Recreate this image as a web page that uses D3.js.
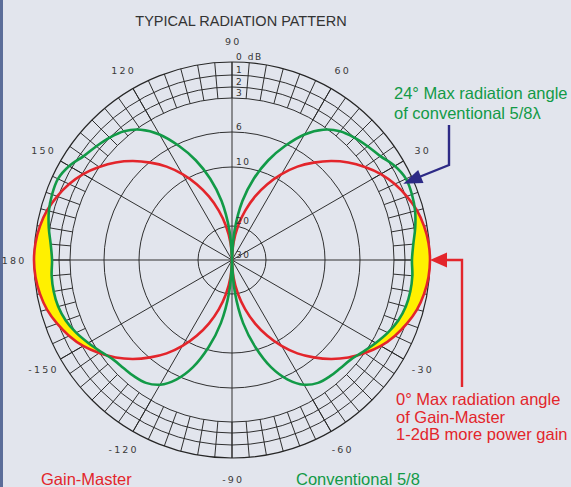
<!DOCTYPE html>
<html>
<head>
<meta charset="utf-8">
<script src="https://cdn.jsdelivr.net/npm/d3@7/dist/d3.min.js"></script>
<style>
  html, body { margin: 0; padding: 0; background: #e2e5ed; }
  svg { display: block; }
</style>
</head>
<body>
<svg id="chart" width="571" height="487"></svg>
<script>
// ---------- DATA ----------
const title = "TYPICAL RADIATION PATTERN";
// elevation angles (deg) for one quadrant; left and right lobes are mirror images
const elevations = [0, 5, 10, 15, 20, 25, 30, 35, 40, 45, 50, 55, 60, 65, 70, 75, 80, 85, 90];
// attenuation below max (dB)
const gainMasterDb        = [0, 0.06, 0.23, 0.5, 0.92, 1.45, 2.1, 2.98, 3.9, 4.94, 6.1, 7.6, 9.3, 11.6, 14.3, 17.1, 19.9, 24.9, 30];
const conventionalUpperDb = [1.42, 1.25, 0.92, 0.65, 0.5, 0.46, 0.77, 1.33, 1.67, 2.0, 2.45, 3.26, 4.5, 6.23, 8.5, 11.5, 15.6, 21.2, 30];
const conventionalLowerDb = [1.42, 1.33, 1.33, 1.42, 1.67, 2.09, 2.64, 3.18, 3.62, 3.79, 3.88, 4.06, 4.59, 5.65, 7.6, 10.5, 14.9, 20.6, 30];
// grid
const ringDb = [0, 1, 2, 3, 6, 10, 20];
const dbLabelValues = [0, 1, 2, 3, 6, 10, 20, 30];
const dbLabelTexts  = ["0 dB", "1", "2", "3", "6", "10", "20", "30"];
const spokeAngles = [0, 30, 60, 90, 120, 150, 180, 210, 240, 270, 300, 330];
const angleTickValues = [90, 120, 150, 180, -150, -120, -90, -60, -30, 30, 60];
const angleTickLabels = ["90", "120", "150", "180", "-150", "-120", "-90", "-60", "-30", "30", "60"];
const seriesNames = ["Gain-Master", "Conventional 5/8"];
const noteConventional = ["24° Max radiation angle", "of conventional 5/8λ"];
const noteGainMaster = ["0° Max radiation angle", "of Gain-Master", "1-2dB more power gain"];

// ---------- LAYOUT ----------
const svg = d3.select("#chart");
const W = 571, H = 487;
const cx = 232, cy = 260;
const RED = "#e3252b", GREEN = "#129a47", BLUE = "#2d2a86", YELLOW = "#fff000", GRID = "#262626";

// dB -> radius (chart uses a non-linear dB scale)
const rScale = d3.scaleLinear()
  .domain([0, 1, 2, 3, 6, 10, 20, 30])
  .range([198, 185, 173, 162, 128, 93, 34, 0]);
const toRad = d => d * Math.PI / 180;
function pt(angleDeg, db) {
  const r = rScale(db);
  return [cx + r * Math.cos(toRad(angleDeg)), cy - r * Math.sin(toRad(angleDeg))];
}

svg.append("rect").attr("width", W).attr("height", H).attr("fill", "#e2e5ed");
svg.append("rect").attr("width", 3).attr("height", H).attr("fill", "#5b6d99");

// title
svg.append("text").attr("x", 241).attr("y", 26).attr("text-anchor", "middle")
  .attr("font-family", "Liberation Sans, Arial, sans-serif").attr("font-size", 14.5)
  .attr("fill", "#333").text(title);

const grid = svg.append("g").attr("fill", "none").attr("stroke", GRID).attr("stroke-width", 0.95);

// rings
grid.selectAll("circle.ring").data(ringDb).join("circle")
  .attr("cx", cx).attr("cy", cy).attr("r", d => rScale(d))
  .attr("stroke-width", d => d === 0 ? 1.2 : 0.95);

// 5-degree ticks in the outer band (0..3 dB)
const tickAngles = d3.range(0, 360, 5);
grid.selectAll("line.tick").data(tickAngles).join("line")
  .attr("x1", a => pt(a, 0)[0]).attr("y1", a => pt(a, 0)[1])
  .attr("x2", a => pt(a, 3)[0]).attr("y2", a => pt(a, 3)[1]);

// spokes every 30 degrees
grid.selectAll("line.spoke").data(spokeAngles).join("line")
  .attr("x1", cx).attr("y1", cy)
  .attr("x2", a => pt(a, 0)[0]).attr("y2", a => pt(a, 0)[1]);

// build lobes
function dbAt(upper, lower, angle) {
  let a = angle > 180 ? angle - 360 : angle;
  let e = Math.abs(a) > 90 ? Math.sign(a) * (180 - Math.abs(a)) : a; // elevation, signed
  return e >= 0 ? upper[elevations.indexOf(e)] : lower[elevations.indexOf(-e)];
}
const lineGen = d3.line().curve(d3.curveCatmullRom.alpha(0.5));
function lobes(upper, lower) {
  const right = d3.range(-90, 91, 5).map(a => pt(a, dbAt(upper, lower, a)));
  const left = d3.range(90, 271, 5).map(a => pt(a, dbAt(upper, lower, a)));
  return lineGen(right) + "Z" + lineGen(left) + "Z";
}
const redPath = lobes(gainMasterDb, gainMasterDb);
const greenPath = lobes(conventionalUpperDb, conventionalLowerDb);

// yellow: where Gain-Master extends beyond conventional
const defs = svg.append("defs");
const mask = defs.append("mask").attr("id", "outsideGreen");
mask.append("rect").attr("width", W).attr("height", H).attr("fill", "white");
mask.append("path").attr("d", greenPath).attr("fill", "black");
svg.append("path").attr("d", redPath).attr("fill", YELLOW).attr("mask", "url(#outsideGreen)");

svg.append("path").attr("d", redPath).attr("fill", "none").attr("stroke", RED).attr("stroke-width", 2.6).attr("stroke-linejoin", "round");
svg.append("path").attr("d", greenPath).attr("fill", "none").attr("stroke", GREEN).attr("stroke-width", 2.6).attr("stroke-linejoin", "round");

// dB labels
const lblFont = "DejaVu Sans, Verdana, sans-serif";
svg.selectAll("text.db").data(dbLabelValues).join("text")
  .attr("x", cx + 4).attr("y", d => cy - rScale(d) - 2.5)
  .attr("font-family", lblFont).attr("font-size", 9).attr("letter-spacing", 1.6)
  .attr("fill", "#333").text((d, i) => dbLabelTexts[i]);

// angle labels
const labelR = 219;
svg.selectAll("text.ang").data(angleTickValues).join("text")
  .attr("x", a => cx + labelR * Math.cos(toRad(a)) + 1.2)
  .attr("y", a => cy - labelR * Math.sin(toRad(a)) + 3.5)
  .attr("text-anchor", "middle")
  .attr("font-family", lblFont).attr("font-size", 9.5).attr("letter-spacing", 2.2)
  .attr("fill", "#3a3a3a").text((a, i) => angleTickLabels[i]);

// annotations
const noteFont = "Liberation Sans, Arial, sans-serif";
svg.append("g").selectAll("text").data(noteConventional).join("text")
  .attr("x", 394).attr("y", (d, i) => 99 + i * 19.5)
  .attr("font-family", noteFont).attr("font-size", 16.5).attr("fill", GREEN).text(d => d);
svg.append("g").selectAll("text").data(noteGainMaster).join("text")
  .attr("x", 396).attr("y", (d, i) => 405 + i * 17.6)
  .attr("font-family", noteFont).attr("font-size", 16.5).attr("fill", RED).text(d => d);

// blue arrow to the conventional max (24°)
const bTip = pt(24, conventionalUpperDb[elevations.indexOf(25)] + 0.35);
const bElbow = [449, 165];
svg.append("polyline").attr("points", [[449, 125], bElbow, [bTip[0] + 14, bTip[1] - 6]].map(p => p.join(",")).join(" "))
  .attr("fill", "none").attr("stroke", BLUE).attr("stroke-width", 2.4);
{
  const dx = bElbow[0] - bTip[0], dy = bElbow[1] - bTip[1], L = Math.hypot(dx, dy);
  const ux = dx / L, uy = dy / L, len = 19, hw = 7;
  const bx = bTip[0] + ux * len, by = bTip[1] + uy * len;
  svg.append("polygon").attr("fill", BLUE)
    .attr("points", [[bTip[0], bTip[1]], [bx - uy * hw, by + ux * hw], [bx + uy * hw, by - ux * hw]].map(p => p.join(",")).join(" "));
}

// red arrow to Gain-Master max (0°)
const rTip = pt(0, gainMasterDb[0]);
svg.append("polyline").attr("points", [[462, 387], [462, rTip[1]], [rTip[0] + 12, rTip[1]]].map(p => p.join(",")).join(" "))
  .attr("fill", "none").attr("stroke", RED).attr("stroke-width", 2.4);
svg.append("polygon").attr("fill", RED)
  .attr("points", [[rTip[0], rTip[1]], [rTip[0] + 17, rTip[1] - 7.5], [rTip[0] + 17, rTip[1] + 7.5]].map(p => p.join(",")).join(" "));

// legend (series names)
svg.append("text").attr("x", 41).attr("y", 485).attr("font-family", noteFont).attr("font-size", 16.5)
  .attr("fill", RED).text(seriesNames[0]);
svg.append("text").attr("x", 296).attr("y", 485).attr("font-family", noteFont).attr("font-size", 16.5)
  .attr("fill", GREEN).text(seriesNames[1]);
</script>
</body>
</html>
